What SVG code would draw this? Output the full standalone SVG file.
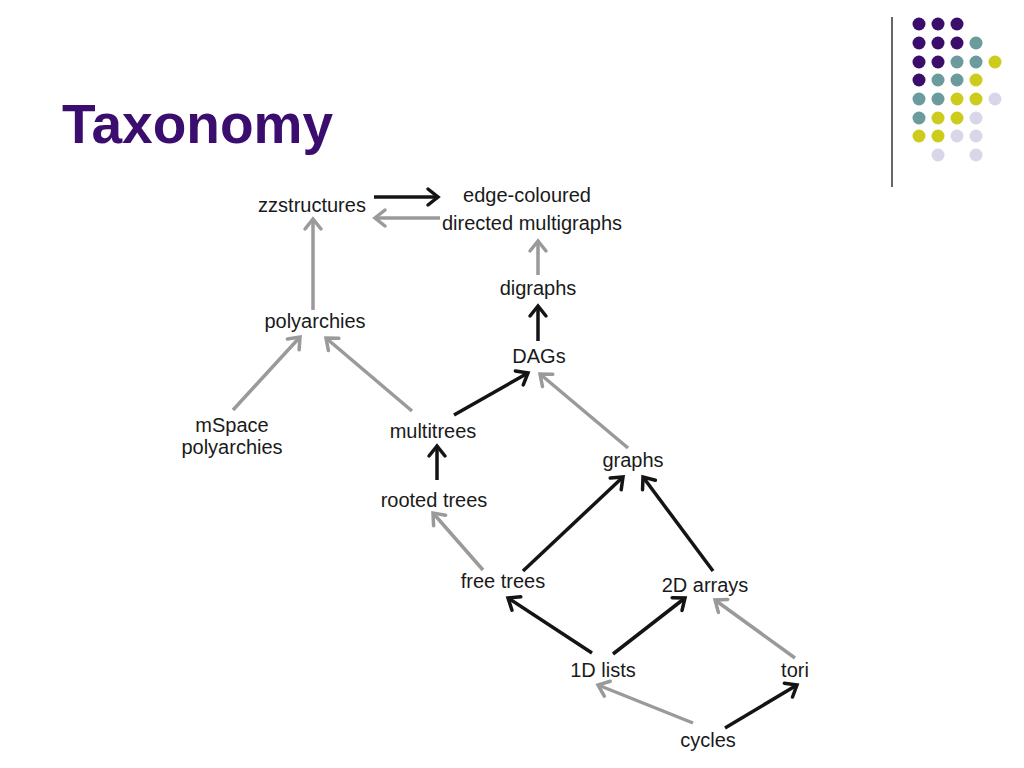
<svg xmlns="http://www.w3.org/2000/svg" width="1024" height="768" viewBox="0 0 1024 768">
<style>
.t{font-family:"Liberation Sans",Arial,sans-serif;font-size:20px;fill:#1a1a1a;text-anchor:middle}
.title{font-family:"Liberation Sans",Arial,sans-serif;font-size:55px;font-weight:bold;fill:#3a0d6e}
.k{stroke:#141414;stroke-width:3.5;fill:none;marker-end:url(#ak)}
.g{stroke:#9a9a9a;stroke-width:3.5;fill:none;marker-end:url(#ag)}
.p{fill:#3b0e6c}.q{fill:#6b9b9d}.y{fill:#cdcc1c}.l{fill:#d7d7e9}
</style>
<defs>
<marker id="ak" markerUnits="userSpaceOnUse" viewBox="-14 -11 16 22" refX="0" refY="0" markerWidth="16" markerHeight="22" orient="auto" overflow="visible">
<path d="M-10,-8 L0,0 L-10,8" fill="none" stroke="#141414" stroke-width="3.5" stroke-linecap="round"/>
</marker>
<marker id="ag" markerUnits="userSpaceOnUse" viewBox="-14 -11 16 22" refX="0" refY="0" markerWidth="16" markerHeight="22" orient="auto" overflow="visible">
<path d="M-10,-8 L0,0 L-10,8" fill="none" stroke="#9a9a9a" stroke-width="3.5" stroke-linecap="round"/>
</marker>
</defs>
<rect width="1024" height="768" fill="#ffffff"/>
<g id="decor">
<line x1="892" y1="17" x2="892" y2="187" stroke="#333" stroke-width="1.5"/>
<circle class="p" cx="919" cy="24" r="6.5"/><circle class="p" cx="938" cy="24" r="6.5"/><circle class="p" cx="957" cy="24" r="6.5"/>
<circle class="p" cx="919" cy="43" r="6.5"/><circle class="p" cx="938" cy="43" r="6.5"/><circle class="p" cx="957" cy="43" r="6.5"/><circle class="q" cx="976" cy="43" r="6.5"/>
<circle class="p" cx="919" cy="62" r="6.5"/><circle class="p" cx="938" cy="62" r="6.5"/><circle class="q" cx="957" cy="62" r="6.5"/><circle class="q" cx="976" cy="62" r="6.5"/><circle class="y" cx="995" cy="62" r="6.5"/>
<circle class="p" cx="919" cy="80" r="6.5"/><circle class="q" cx="938" cy="80" r="6.5"/><circle class="q" cx="957" cy="80" r="6.5"/><circle class="y" cx="976" cy="80" r="6.5"/>
<circle class="q" cx="919" cy="99" r="6.5"/><circle class="q" cx="938" cy="99" r="6.5"/><circle class="y" cx="957" cy="99" r="6.5"/><circle class="y" cx="976" cy="99" r="6.5"/><circle class="l" cx="995" cy="99" r="6.5"/>
<circle class="q" cx="919" cy="118" r="6.5"/><circle class="y" cx="938" cy="118" r="6.5"/><circle class="y" cx="957" cy="118" r="6.5"/><circle class="l" cx="976" cy="118" r="6.5"/>
<circle class="y" cx="919" cy="136" r="6.5"/><circle class="y" cx="938" cy="136" r="6.5"/><circle class="l" cx="957" cy="136" r="6.5"/><circle class="l" cx="976" cy="136" r="6.5"/>
<circle class="l" cx="938" cy="155" r="6.5"/><circle class="l" cx="976" cy="155" r="6.5"/>
</g>
<text class="title" x="62" y="143">Taxonomy</text>
<g id="connectors">
<line class="k" x1="374" y1="197" x2="438" y2="197"/>
<line class="g" x1="440" y1="218" x2="375" y2="218"/>
<line class="g" x1="313" y1="310" x2="313" y2="219"/>
<line class="g" x1="538" y1="275" x2="538" y2="241"/>
<line class="k" x1="538" y1="341" x2="538" y2="306"/>
<line class="g" x1="233" y1="410" x2="300" y2="337"/>
<line class="g" x1="412" y1="411" x2="326" y2="338"/>
<line class="k" x1="454" y1="415" x2="528" y2="373"/>
<line class="g" x1="628" y1="448" x2="540" y2="374"/>
<line class="k" x1="437" y1="480" x2="437" y2="446"/>
<line class="g" x1="483" y1="570" x2="433" y2="513"/>
<line class="k" x1="523" y1="571" x2="623" y2="477"/>
<line class="k" x1="713" y1="571" x2="643" y2="477"/>
<line class="k" x1="592" y1="653" x2="508" y2="598"/>
<line class="k" x1="613" y1="654" x2="685" y2="598"/>
<line class="g" x1="795" y1="658" x2="715" y2="600"/>
<line class="g" x1="693" y1="723" x2="598" y2="685"/>
<line class="k" x1="725" y1="728" x2="797" y2="685"/>
</g>
<g id="n-zzstructures"><text class="t" x="312" y="212">zzstructures</text></g>
<g id="n-edgecoloured"><text class="t" x="527" y="202">edge-coloured</text><text class="t" x="532" y="230">directed multigraphs</text></g>
<g id="n-digraphs"><text class="t" x="538" y="295">digraphs</text></g>
<g id="n-polyarchies"><text class="t" x="315" y="328">polyarchies</text></g>
<g id="n-dags"><text class="t" x="539" y="363">DAGs</text></g>
<g id="n-mspace"><text class="t" x="232" y="432">mSpace</text><text class="t" x="232" y="454">polyarchies</text></g>
<g id="n-multitrees"><text class="t" x="433" y="438">multitrees</text></g>
<g id="n-graphs"><text class="t" x="633" y="467">graphs</text></g>
<g id="n-rootedtrees"><text class="t" x="434" y="507">rooted trees</text></g>
<g id="n-freetrees"><text class="t" x="503" y="588">free trees</text></g>
<g id="n-2darrays"><text class="t" x="705" y="592">2D arrays</text></g>
<g id="n-1dlists"><text class="t" x="603" y="677">1D lists</text></g>
<g id="n-tori"><text class="t" x="795" y="677">tori</text></g>
<g id="n-cycles"><text class="t" x="708" y="747">cycles</text></g>
</svg>
